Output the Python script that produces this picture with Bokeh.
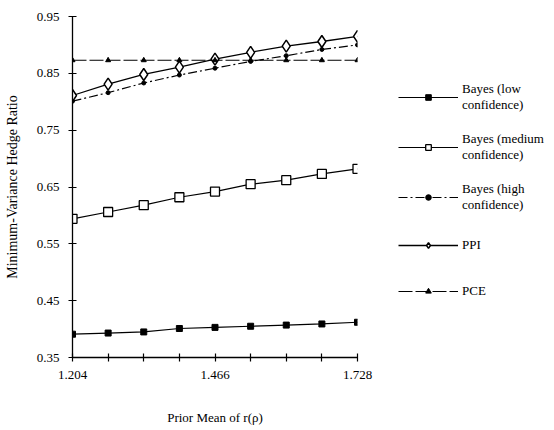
from bokeh.plotting import figure
from bokeh.models import Range1d, FixedTicker, Legend, LegendItem
from bokeh.embed import file_html
from bokeh.resources import INLINE

# ---- data ----
x_vals = [1.204, 1.2695, 1.335, 1.4005, 1.466, 1.5315, 1.597, 1.6625, 1.728]
x_tick_labels = {1.204: "1.204", 1.466: "1.466", 1.728: "1.728"}
y_ticks = [0.35, 0.45, 0.55, 0.65, 0.75, 0.85, 0.95]
bayes_low = [0.391, 0.393, 0.395, 0.401, 0.403, 0.405, 0.407, 0.409, 0.412]
bayes_medium = [0.594, 0.606, 0.618, 0.632, 0.642, 0.655, 0.662, 0.673, 0.682]
bayes_high = [0.801, 0.816, 0.833, 0.847, 0.859, 0.871, 0.881, 0.892, 0.900]
ppi = [0.811, 0.831, 0.848, 0.861, 0.875, 0.887, 0.898, 0.906, 0.915]
pce = [0.873, 0.873, 0.873, 0.873, 0.873, 0.873, 0.873, 0.873, 0.873]
series_names = ["Bayes (low\nconfidence)", "Bayes (medium\nconfidence)",
                "Bayes (high\nconfidence)", "PPI", "PCE"]

FONT = "Liberation Serif"

p = figure(width=546, height=428, output_backend="svg", toolbar_location=None,
           x_range=Range1d(1.204, 1.728), y_range=Range1d(0.35, 0.95),
           frame_width=285, frame_height=341,
           min_border_left=72, min_border_top=16, min_border_right=189, min_border_bottom=71)
p.outline_line_color = None
p.grid.visible = False
p.background_fill_color = "white"

p.xaxis.ticker = FixedTicker(ticks=x_vals)
p.xaxis.major_label_overrides = {v: x_tick_labels.get(v, "") for v in x_vals}
p.yaxis.ticker = FixedTicker(ticks=y_ticks)
p.yaxis.major_label_overrides = {v: f"{v:.2f}" for v in y_ticks}

for ax in (p.xaxis[0], p.yaxis[0]):
    ax.minor_tick_line_color = None
    ax.major_tick_in = 4
    ax.major_tick_out = 4
    ax.axis_line_color = "black"
    ax.axis_line_width = 1.3
    ax.major_tick_line_color = "black"
    ax.major_tick_line_width = 1.2
    ax.major_label_text_font = FONT
    ax.major_label_text_font_size = "13px"
    ax.major_label_text_color = "black"
    ax.axis_label_text_font = FONT
    ax.axis_label_text_font_style = "normal"
    ax.axis_label_text_color = "black"
    ax.major_label_standoff = 9

p.xaxis.axis_label = "Prior Mean of r(\u03c1)"
p.xaxis.axis_label_text_font_size = "13px"
p.xaxis.axis_label_standoff = 28
p.yaxis.axis_label = "Minimum-Variance Hedge Ratio"
p.yaxis.axis_label_text_font_size = "14px"
p.yaxis.axis_label_standoff = 14

items = []
l1 = p.line(x_vals, bayes_low, line_color="black", line_width=1.2)
m1 = p.scatter(x_vals, bayes_low, marker="square", size=6, fill_color="black", line_color="black")
items.append(LegendItem(label=series_names[0], renderers=[l1, m1]))
l2 = p.line(x_vals, bayes_medium, line_color="black", line_width=1.2)
m2 = p.scatter(x_vals, bayes_medium, marker="square", size=9, fill_color="white", line_color="black", line_width=1.3)
items.append(LegendItem(label=series_names[1], renderers=[l2, m2]))
l3 = p.line(x_vals, bayes_high, line_color="black", line_width=1.2, line_dash="9 3 2 3")
m3 = p.scatter(x_vals, bayes_high, marker="circle", size=4, fill_color="black", line_color="black")
items.append(LegendItem(label=series_names[2], renderers=[l3, m3]))
l4 = p.line(x_vals, ppi, line_color="black", line_width=1.3)
m4 = p.scatter(x_vals, ppi, marker="diamond", size=12, fill_color="white", line_color="black", line_width=1.5)
items.append(LegendItem(label=series_names[3], renderers=[l4, m4]))
l5 = p.line(x_vals, pce, line_color="black", line_width=1.0, line_dash="14 3")
m5 = p.scatter(x_vals, pce, marker="triangle", size=5, fill_color="black", line_color="black")
items.append(LegendItem(label=series_names[4], renderers=[l5, m5]))

legend = Legend(items=items, location=(41, 52), orientation="vertical",
                glyph_width=60, glyph_height=14, label_height=28, label_standoff=4, spacing=18,
                padding=0, margin=0, border_line_alpha=0, background_fill_alpha=0,
                label_text_font=FONT, label_text_font_size="13px", label_text_color="black")
p.add_layout(legend, "right")

open("out.html", "w").write(file_html(p, INLINE))
